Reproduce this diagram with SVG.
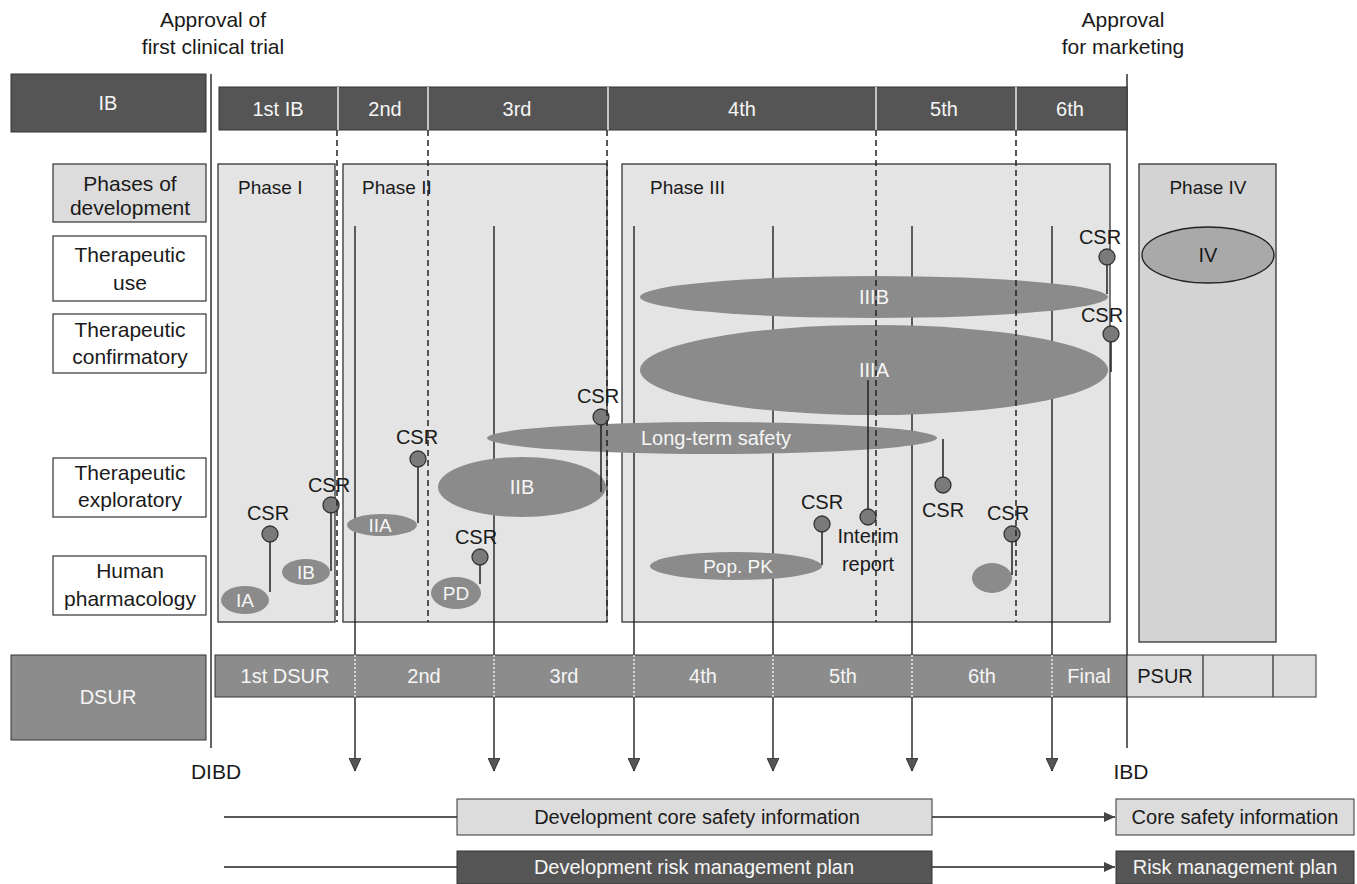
<svg xmlns="http://www.w3.org/2000/svg" width="1357" height="884" viewBox="0 0 1357 884">
<defs>
<style>
text{font-family:"Liberation Sans",Arial,sans-serif;}
.t{font-size:21px;fill:#1a1a1a;text-anchor:middle;}
.w{font-size:20px;fill:#f6f6f6;text-anchor:middle;}
.wl{font-size:19px;fill:#f6f6f6;text-anchor:middle;}
.ph{font-size:19px;fill:#1a1a1a;}
.lab{fill:#fff;stroke:#333;stroke-width:1.2;}
.phase{fill:#e4e4e4;stroke:#333;stroke-width:1.3;}
.ell{fill:#8b8b8b;stroke:none;}
.csr{fill:#7a7a7a;stroke:#333;stroke-width:1.3;}
.stem{stroke:#222;stroke-width:1.5;fill:none;}
.dash{stroke:#222;stroke-width:1.5;stroke-dasharray:6 4;fill:none;}
.tl{stroke:#222;stroke-width:1.4;fill:none;}
.wd{stroke:#fff;stroke-width:1.3;}
.wdot{stroke:#fff;stroke-width:1.3;stroke-dasharray:2 2;}
.c{font-size:20px;fill:#1a1a1a;text-anchor:middle;}
</style>
<marker id="ad" markerWidth="14" markerHeight="12" refX="13" refY="6" orient="auto" markerUnits="userSpaceOnUse" viewBox="0 0 14 12">
<path d="M0,0 L13,6 L0,12 Z" fill="#555" stroke="#222" stroke-width="0.8"/>
</marker>
<marker id="ar" markerWidth="12" markerHeight="12" refX="11" refY="6" orient="auto" markerUnits="userSpaceOnUse" viewBox="0 0 12 12">
<path d="M0,1 L11,6 L0,11 Z" fill="#444"/>
</marker>
</defs>
<rect width="1357" height="884" fill="#fff"/>

<g id="approval-labels">
<text class="t" x="213" y="27">Approval of</text>
<text class="t" x="213" y="54">first clinical trial</text>
<text class="t" x="1123" y="27">Approval</text>
<text class="t" x="1123" y="54">for marketing</text>
</g>

<g id="row-labels">
<g id="lab-ib"><rect x="11" y="74" width="195" height="58" fill="#555" stroke="#333"/><text class="w" x="108" y="110">IB</text></g>
<g id="lab-phases"><rect x="53" y="164" width="153" height="58" fill="#dcdcdc" stroke="#333" stroke-width="1.2"/><text class="t" x="130" y="191">Phases of</text><text class="t" x="130" y="215">development</text></g>
<g id="lab-use"><rect class="lab" x="53" y="236" width="153" height="65"/><text class="t" x="130" y="262">Therapeutic</text><text class="t" x="130" y="290">use</text></g>
<g id="lab-conf"><rect class="lab" x="53" y="314" width="153" height="59"/><text class="t" x="130" y="337">Therapeutic</text><text class="t" x="130" y="364">confirmatory</text></g>
<g id="lab-expl"><rect class="lab" x="53" y="458" width="153" height="59"/><text class="t" x="130" y="480">Therapeutic</text><text class="t" x="130" y="507">exploratory</text></g>
<g id="lab-hp"><rect class="lab" x="53" y="556" width="153" height="59"/><text class="t" x="130" y="578">Human</text><text class="t" x="130" y="606">pharmacology</text></g>
<g id="lab-dsur"><rect x="11" y="655" width="195" height="85" fill="#8c8c8c" stroke="#333"/><text class="w" x="108" y="704">DSUR</text></g>
</g>

<g id="phase-boxes">
<g id="phase1"><rect class="phase" x="218" y="164" width="117" height="458"/><text class="ph" x="238" y="194">Phase I</text></g>
<g id="phase2"><rect class="phase" x="343" y="164" width="264" height="458"/><text class="ph" x="362" y="194">Phase II</text></g>
<g id="phase3"><rect class="phase" x="622" y="164" width="488" height="458"/><text class="ph" x="650" y="194">Phase III</text></g>
<g id="phase4"><rect x="1139" y="164" width="137" height="478" fill="#d3d3d3" stroke="#333" stroke-width="1.3"/><text class="ph" x="1208" y="194" text-anchor="middle">Phase IV</text>
<ellipse cx="1208" cy="255" rx="66" ry="28" fill="#a9a9a9" stroke="#222" stroke-width="1.3"/><text class="c" x="1208" y="262">IV</text></g>
</g>

<g id="connectors">
<line class="tl" x1="211" y1="74" x2="211" y2="748" stroke-width="2.2"/>
<line class="tl" x1="1127" y1="74" x2="1127" y2="748" stroke-width="2.2"/>
<line class="tl" x1="355" y1="226" x2="355" y2="771" marker-end="url(#ad)"/>
<line class="tl" x1="494" y1="226" x2="494" y2="771" marker-end="url(#ad)"/>
<line class="tl" x1="634" y1="226" x2="634" y2="771" marker-end="url(#ad)"/>
<line class="tl" x1="773" y1="226" x2="773" y2="771" marker-end="url(#ad)"/>
<line class="tl" x1="912" y1="226" x2="912" y2="771" marker-end="url(#ad)"/>
<line class="tl" x1="1052" y1="226" x2="1052" y2="771" marker-end="url(#ad)"/>
<line class="tl" x1="224" y1="817" x2="457" y2="817"/>
<line class="tl" x1="932" y1="817" x2="1115" y2="817" marker-end="url(#ar)"/>
<line class="tl" x1="224" y1="867" x2="457" y2="867"/>
<line class="tl" x1="932" y1="867" x2="1115" y2="867" marker-end="url(#ar)"/>
</g>

<g id="studies">
<g id="IIIB"><ellipse class="ell" cx="874" cy="297" rx="234" ry="21"/><text class="w" x="874" y="304">IIIB</text></g>
<g id="IIIA"><ellipse class="ell" cx="874" cy="370" rx="234" ry="45"/><text class="w" x="874" y="377">IIIA</text></g>
<g id="LTS"><ellipse class="ell" cx="712" cy="438" rx="225" ry="16"/><text class="w" x="716" y="445">Long-term safety</text></g>
<g id="IIB"><ellipse class="ell" cx="522" cy="487" rx="84" ry="30"/><text class="w" x="522" y="494">IIB</text></g>
<g id="IIA"><ellipse class="ell" cx="382" cy="525" rx="35" ry="11"/><text class="wl" x="380" y="532">IIA</text></g>
<g id="IB"><ellipse class="ell" cx="306" cy="572" rx="24" ry="13"/><text class="wl" x="306" y="579">IB</text></g>
<g id="IA"><ellipse class="ell" cx="245" cy="600" rx="24" ry="14"/><text class="wl" x="245" y="607">IA</text></g>
<g id="PD"><ellipse class="ell" cx="456" cy="593" rx="25" ry="16"/><text class="wl" x="456" y="600">PD</text></g>
<g id="PopPK"><ellipse class="ell" cx="736" cy="566" rx="86" ry="14"/><text class="wl" x="738" y="573">Pop. PK</text></g>
<g id="small"><ellipse class="ell" cx="992" cy="578" rx="20" ry="15"/></g>
</g>

<g id="csr-markers">
<g><line class="stem" x1="270" y1="534" x2="270" y2="592"/><circle class="csr" cx="270" cy="534" r="8"/><text class="c" x="268" y="520">CSR</text></g>
<g><line class="stem" x1="331" y1="505" x2="331" y2="571"/><circle class="csr" cx="331" cy="505" r="8"/><text class="c" x="329" y="492">CSR</text></g>
<g><line class="stem" x1="418" y1="459" x2="418" y2="523"/><circle class="csr" cx="418" cy="459" r="8"/><text class="c" x="417" y="444">CSR</text></g>
<g><line class="stem" x1="480" y1="557" x2="480" y2="584"/><circle class="csr" cx="480" cy="557" r="8"/><text class="c" x="476" y="544">CSR</text></g>
<g><line class="stem" x1="601" y1="417" x2="601" y2="492"/><circle class="csr" cx="601" cy="417" r="8"/><text class="c" x="598" y="403">CSR</text></g>
<g><line class="stem" x1="822" y1="524" x2="822" y2="565"/><circle class="csr" cx="822" cy="524" r="8"/><text class="c" x="822" y="509">CSR</text></g>
<g><line class="stem" x1="868" y1="380" x2="868" y2="517"/><circle class="csr" cx="868" cy="517" r="8"/><text class="c" x="868" y="543">Interim</text><text class="c" x="868" y="571">report</text></g>
<g><line class="stem" x1="943" y1="439" x2="943" y2="485"/><circle class="csr" cx="943" cy="485" r="8"/><text class="c" x="943" y="517">CSR</text></g>
<g><line class="stem" x1="1012" y1="534" x2="1012" y2="575"/><circle class="csr" cx="1012" cy="534" r="8"/><text class="c" x="1008" y="520">CSR</text></g>
<g><line class="stem" x1="1107" y1="257" x2="1107" y2="294"/><circle class="csr" cx="1107" cy="257" r="8"/><text class="c" x="1100" y="244">CSR</text></g>
<g><line class="stem" x1="1111" y1="334" x2="1111" y2="372"/><circle class="csr" cx="1111" cy="334" r="8"/><text class="c" x="1102" y="322">CSR</text></g>
</g>

<g id="ib-dashes">
<line class="dash" x1="337" y1="130" x2="337" y2="622"/>
<line class="dash" x1="428" y1="130" x2="428" y2="622"/>
<line class="dash" x1="607" y1="130" x2="607" y2="622"/>
<line class="dash" x1="876" y1="130" x2="876" y2="622"/>
<line class="dash" x1="1016" y1="130" x2="1016" y2="622"/>
</g>

<g id="ib-bar">
<rect x="219" y="87" width="908" height="43" fill="#555" stroke="#333"/>
<line class="wd" x1="338" y1="87" x2="338" y2="130"/>
<line class="wd" x1="428" y1="87" x2="428" y2="130"/>
<line class="wd" x1="608" y1="87" x2="608" y2="130"/>
<line class="wd" x1="876" y1="87" x2="876" y2="130"/>
<line class="wd" x1="1016" y1="87" x2="1016" y2="130"/>
<text class="w" x="278" y="116">1st IB</text>
<text class="w" x="385" y="116">2nd</text>
<text class="w" x="517" y="116">3rd</text>
<text class="w" x="742" y="116">4th</text>
<text class="w" x="944" y="116">5th</text>
<text class="w" x="1070" y="116">6th</text>
</g>

<g id="dsur-bar">
<rect x="215" y="655" width="912" height="42" fill="#8c8c8c" stroke="#333"/>
<line class="wdot" x1="355" y1="655" x2="355" y2="697"/>
<line class="wdot" x1="494" y1="655" x2="494" y2="697"/>
<line class="wdot" x1="634" y1="655" x2="634" y2="697"/>
<line class="wdot" x1="773" y1="655" x2="773" y2="697"/>
<line class="wdot" x1="912" y1="655" x2="912" y2="697"/>
<line class="wdot" x1="1052" y1="655" x2="1052" y2="697"/>
<text class="w" x="285" y="683">1st DSUR</text>
<text class="w" x="424" y="683">2nd</text>
<text class="w" x="564" y="683">3rd</text>
<text class="w" x="703" y="683">4th</text>
<text class="w" x="843" y="683">5th</text>
<text class="w" x="982" y="683">6th</text>
<text class="w" x="1089" y="683">Final</text>
<rect x="1127" y="655" width="189" height="42" fill="#dcdcdc" stroke="#333"/>
<line x1="1203" y1="655" x2="1203" y2="697" stroke="#333" stroke-width="1.3"/>
<line x1="1273" y1="655" x2="1273" y2="697" stroke="#333" stroke-width="1.3"/>
<text class="c" x="1165" y="683">PSUR</text>
</g>

<g id="markers-text">
<text class="t" x="216" y="779">DIBD</text>
<text class="t" x="1131" y="779">IBD</text>
</g>

<g id="dev-csi"><rect x="457" y="799" width="475" height="36" fill="#dcdcdc" stroke="#333"/><text class="c" x="697" y="824">Development core safety information</text></g>
<g id="csi"><rect x="1116" y="799" width="238" height="36" fill="#dcdcdc" stroke="#333"/><text class="c" x="1235" y="824">Core safety information</text></g>
<g id="dev-rmp"><rect x="457" y="851" width="475" height="33" fill="#555" stroke="#333"/><text class="w" x="694" y="874">Development risk management plan</text></g>
<g id="rmp"><rect x="1116" y="851" width="238" height="33" fill="#555" stroke="#333"/><text class="w" x="1235" y="874">Risk management plan</text></g>
</svg>
